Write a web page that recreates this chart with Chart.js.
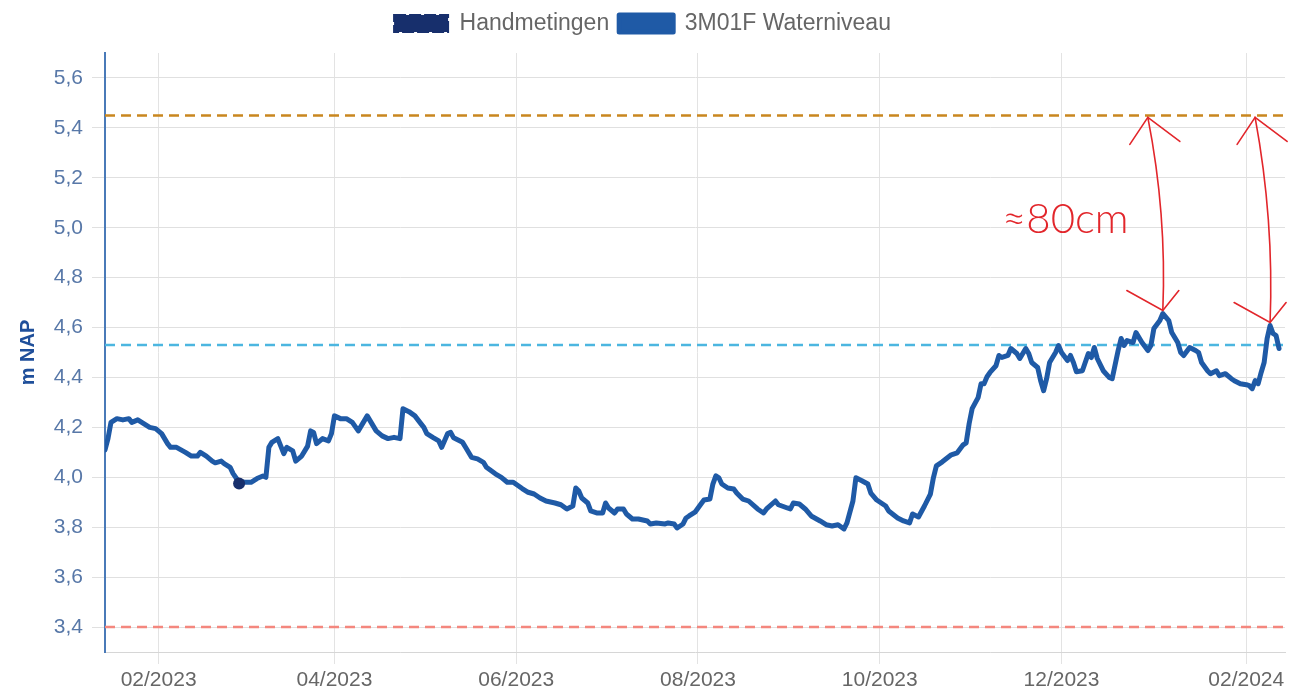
<!DOCTYPE html>
<html>
<head>
<meta charset="utf-8">
<script src="https://cdn.jsdelivr.net/npm/chart.js@4.4.1/dist/chart.umd.min.js"></script>
<style>
  html, body { margin: 0; padding: 0; background: #fff; }
  #wrap { width: 1300px; height: 695px; position: relative; }
</style>
</head>
<body>
<div id="wrap"><canvas id="grafico"></canvas></div>
<script>
// dagwaarden 3M01F (m NAP)
const waterDates = [
  "2023-01-14","2023-01-15","2023-01-16","2023-01-18","2023-01-20","2023-01-22","2023-01-23","2023-01-25","2023-01-27","2023-01-29","2023-01-31",
  "2023-02-02","2023-02-04","2023-02-05","2023-02-07","2023-02-10","2023-02-12","2023-02-14","2023-02-15","2023-02-17","2023-02-19","2023-02-20","2023-02-22","2023-02-23","2023-02-25","2023-02-26","2023-02-28",
  "2023-03-02","2023-03-04","2023-03-06","2023-03-08","2023-03-09","2023-03-10","2023-03-11","2023-03-13","2023-03-14","2023-03-15","2023-03-16","2023-03-18","2023-03-19","2023-03-21","2023-03-23","2023-03-24","2023-03-25","2023-03-26","2023-03-28","2023-03-30","2023-03-31",
  "2023-04-01","2023-04-03","2023-04-05","2023-04-07","2023-04-09","2023-04-10","2023-04-12","2023-04-13","2023-04-15","2023-04-17","2023-04-19","2023-04-21","2023-04-23","2023-04-24","2023-04-26","2023-04-28","2023-04-30",
  "2023-05-01","2023-05-02","2023-05-04","2023-05-06","2023-05-07","2023-05-09","2023-05-10","2023-05-11","2023-05-14","2023-05-15","2023-05-17","2023-05-19","2023-05-21","2023-05-22","2023-05-25","2023-05-27","2023-05-29","2023-05-31",
  "2023-06-03","2023-06-05","2023-06-07","2023-06-09","2023-06-11","2023-06-14","2023-06-16","2023-06-18","2023-06-20","2023-06-21","2023-06-22","2023-06-23","2023-06-25","2023-06-26","2023-06-28","2023-06-30",
  "2023-07-01","2023-07-02","2023-07-04","2023-07-05","2023-07-07","2023-07-08","2023-07-10","2023-07-12","2023-07-15","2023-07-16","2023-07-18","2023-07-21","2023-07-22","2023-07-24","2023-07-25","2023-07-27","2023-07-28","2023-07-29","2023-07-31",
  "2023-08-02","2023-08-03","2023-08-05","2023-08-06","2023-08-07","2023-08-08","2023-08-09","2023-08-11","2023-08-13","2023-08-14","2023-08-16","2023-08-18","2023-08-21","2023-08-23","2023-08-24","2023-08-27","2023-08-28","2023-08-31",
  "2023-09-01","2023-09-02","2023-09-04","2023-09-06","2023-09-08","2023-09-11","2023-09-13","2023-09-15","2023-09-17","2023-09-19","2023-09-20","2023-09-22","2023-09-23","2023-09-25","2023-09-27","2023-09-28","2023-09-30",
  "2023-10-03","2023-10-04","2023-10-07","2023-10-09","2023-10-11","2023-10-12","2023-10-14","2023-10-16","2023-10-18","2023-10-19","2023-10-20","2023-10-22","2023-10-25","2023-10-27","2023-10-29","2023-10-30","2023-10-31",
  "2023-11-01","2023-11-03","2023-11-04","2023-11-05","2023-11-06","2023-11-07","2023-11-09","2023-11-10","2023-11-11","2023-11-13","2023-11-14","2023-11-16","2023-11-17","2023-11-19","2023-11-20","2023-11-21","2023-11-23","2023-11-24","2023-11-25","2023-11-26","2023-11-27","2023-11-29","2023-11-30",
  "2023-12-01","2023-12-03","2023-12-04","2023-12-05","2023-12-06","2023-12-08","2023-12-10","2023-12-11","2023-12-12","2023-12-13","2023-12-15","2023-12-17","2023-12-18","2023-12-20","2023-12-21","2023-12-22","2023-12-23","2023-12-25","2023-12-26","2023-12-27","2023-12-28","2023-12-30","2023-12-31",
  "2024-01-01","2024-01-03","2024-01-04","2024-01-06","2024-01-07","2024-01-09","2024-01-10","2024-01-11","2024-01-13","2024-01-15","2024-01-16","2024-01-17","2024-01-19","2024-01-20","2024-01-22","2024-01-23","2024-01-25","2024-01-27","2024-01-28","2024-01-30",
  "2024-02-01","2024-02-02","2024-02-03","2024-02-04","2024-02-05","2024-02-06","2024-02-07","2024-02-08","2024-02-09","2024-02-10","2024-02-11","2024-02-12"
];
const waterLevels = [
  4.11,4.155,4.22,4.235,4.23,4.235,4.22,4.23,4.215,4.20,4.195,
  4.175,4.135,4.12,4.12,4.10,4.085,4.085,4.10,4.085,4.065,4.058,4.065,4.055,4.04,4.015,3.98,
  3.98,3.98,3.995,4.005,4.00,4.12,4.14,4.155,4.125,4.095,4.12,4.106,4.065,4.085,4.125,4.186,4.18,4.135,4.155,4.146,4.175,
  4.246,4.235,4.235,4.22,4.186,4.206,4.246,4.226,4.186,4.166,4.155,4.16,4.155,4.275,4.263,4.246,4.215,
  4.20,4.175,4.16,4.146,4.12,4.175,4.18,4.158,4.14,4.12,4.08,4.074,4.06,4.04,4.014,4.00,3.98,3.98,
  3.955,3.94,3.933,3.917,3.905,3.897,3.89,3.873,3.885,3.957,3.945,3.917,3.897,3.865,3.857,3.857,
  3.897,3.877,3.857,3.873,3.873,3.853,3.833,3.833,3.825,3.813,3.817,3.813,3.817,3.813,3.797,3.813,3.837,3.845,3.86,
  3.893,3.909,3.913,3.973,4.006,3.998,3.973,3.957,3.953,3.937,3.913,3.905,3.873,3.857,3.873,3.905,3.89,3.877,
  3.873,3.897,3.893,3.873,3.845,3.825,3.81,3.805,3.81,3.793,3.817,3.905,3.998,3.986,3.973,3.937,3.909,
  3.885,3.865,3.837,3.825,3.817,3.853,3.841,3.885,3.933,3.998,4.046,4.062,4.09,4.098,4.13,4.138,4.215,
  4.275,4.319,4.375,4.375,4.403,4.42,4.447,4.488,4.48,4.488,4.516,4.496,4.476,4.516,4.496,4.46,4.44,4.387,4.347,4.395,4.46,4.50,4.528,
  4.50,4.468,4.488,4.46,4.423,4.427,4.496,4.48,4.52,4.476,4.427,4.40,4.395,4.508,4.556,4.528,4.548,4.54,4.58,4.56,4.54,4.508,4.528,
  4.596,4.628,4.656,4.628,4.58,4.54,4.50,4.488,4.52,4.508,4.50,4.46,4.427,4.415,4.427,4.407,4.415,4.395,4.387,4.375,
  4.371,4.367,4.355,4.387,4.375,4.42,4.46,4.556,4.608,4.576,4.568,4.516
];

// handmeting
const handDates = ["2023-02-28"];
const handLevels = [3.975];

// referentieniveaus (m NAP)
const levelValues = [5.45, 4.53, 3.40];
const levelColors = ["#c9871f", "#4cb6e0", "#f4877e"];

// as-indeling
const axisStart = "2023-01-14";
const axisEnd = "2024-02-14";
const tickDates = ["2023-02-01","2023-04-01","2023-06-01","2023-08-01","2023-10-01","2023-12-01","2024-02-01"];
const tickLabels = ["02/2023","04/2023","06/2023","08/2023","10/2023","12/2023","02/2024"];
const yTicks = [3.4, 3.6, 3.8, 4.0, 4.2, 4.4, 4.6, 4.8, 5.0, 5.2, 5.4, 5.6];

// rode aantekeningen
const arrowDates = ["2024-01-04", "2024-02-09"];
const arrowFrom = [4.656, 4.608];
const arrowTo = 5.45;
const noteText = "≈80cm";
const noteDate = "2023-11-11";
const noteValue = 4.98;

const FONT = '"Liberation Sans", Arial, sans-serif';

let levelSets = levelValues.map((v, i) => ({
  label: "niveau " + i,
  data: [{ x: Date.parse(axisStart), y: v }, { x: Date.parse(axisEnd), y: v }],
  borderColor: levelColors[i],
  borderWidth: 2.5,
  borderDash: [10, 6],
  pointRadius: 0,
  fill: false,
}));

/*********************** AANTEKENINGEN ***********************/
const handNotes = {
  id: "handNotes",
  afterDatasetsDraw(chart) {
    const { ctx, scales: { x, y } } = chart;
    ctx.save();
    ctx.strokeStyle = "#e2262b";
    ctx.fillStyle = "#e2262b";
    ctx.lineWidth = 1.6;
    ctx.lineCap = "round";
    arrowDates.forEach((d, i) => {
      const bx = x.getPixelForValue(Date.parse(d));
      const by = y.getPixelForValue(arrowFrom[i]) - 3;
      const tx = bx - 15;
      const ty = y.getPixelForValue(arrowTo) + 2;
      ctx.beginPath();
      ctx.moveTo(bx, by);
      ctx.quadraticCurveTo(bx + 4, (by + ty) / 2, tx, ty);
      ctx.stroke();
      ctx.beginPath();
      ctx.moveTo(tx - 18, ty + 27);
      ctx.lineTo(tx, ty);
      ctx.lineTo(tx + 32, ty + 24);
      ctx.stroke();
      ctx.beginPath();
      ctx.moveTo(bx - 36, by - 20);
      ctx.lineTo(bx, by);
      ctx.lineTo(bx + 16, by - 20);
      ctx.stroke();
    });
    ctx.font = '300 42px Lato, "DejaVu Sans", sans-serif';
    ctx.textBaseline = "alphabetic";
    ctx.fillText(noteText, x.getPixelForValue(Date.parse(noteDate)), y.getPixelForValue(noteValue));
    ctx.restore();
  },
};

const fixLegend = {
  id: "fixLegend",
  afterInit(chart) {
    const fit = chart.legend.fit;
    chart.legend.fit = function () {
      fit.call(this);
      this.height = 51;
    };
  },
};

/*************************** GRAFIEK ***************************/
let canvas = document.getElementById("grafico").getContext("2d");
let grafico = new Chart(canvas, {
  type: "line",
  data: {
    datasets: [
      {
        label: "Handmetingen",
        data: handDates.map((d, i) => ({ x: Date.parse(d), y: handLevels[i] })),
        showLine: false,
        backgroundColor: "#172f6c",
        borderColor: "#172f6c",
        borderWidth: 2,
        borderDash: [12, 3],
        pointRadius: 6,
        pointBorderWidth: 0,
      },
      {
        label: "3M01F Waterniveau",
        data: waterDates.map((d, i) => ({ x: Date.parse(d), y: waterLevels[i] })),
        backgroundColor: "#1f5aa6",
        borderColor: "#1f5aa6",
        borderWidth: 5,
        borderJoinStyle: "round",
        borderCapStyle: "round",
        pointRadius: 0,
        tension: 0,
        fill: false,
      },
      ...levelSets,
    ],
  },
  options: {
    responsive: true,
    maintainAspectRatio: false,
    animation: false,
    layout: { padding: { top: 2, right: 15, left: 0, bottom: 0 } },
    plugins: {
      legend: {
        position: "top",
        labels: {
          filter: (item) => item.datasetIndex < 2,
          boxWidth: 54,
          boxHeight: 17,
          padding: 10,
          color: "#666",
          font: { family: FONT, size: 23 },
        },
      },
      tooltip: { enabled: false },
    },
    scales: {
      x: {
        type: "linear",
        min: Date.parse(axisStart),
        max: Date.parse(axisEnd),
        afterBuildTicks: (scale) => {
          scale.ticks = tickDates.map((d) => ({ value: Date.parse(d) }));
        },
        afterFit: (scale) => {
          scale.height = 43;
        },
        ticks: {
          autoSkip: false,
          maxRotation: 0,
          padding: 4,
          color: "#666",
          font: { family: FONT, size: 21 },
          callback: (value, index) => tickLabels[index],
        },
        grid: { color: "#e3e3e3", tickLength: 12, tickColor: "#e3e3e3" },
        border: { color: "#d6d6d6", width: 1 },
      },
      y: {
        min: 3.3,
        max: 5.7,
        afterBuildTicks: (scale) => {
          scale.ticks = yTicks.map((v) => ({ value: v }));
        },
        afterFit: (scale) => {
          scale.width = 105;
        },
        ticks: {
          padding: 9,
          color: "#5878a8",
          font: { family: FONT, size: 21 },
          callback: (value) => value.toFixed(1).replace(".", ","),
        },
        grid: { color: "#e0e0e0", tickLength: 13, tickColor: "#e0e0e0" },
        border: { color: "#4a7ab8", width: 2 },
        title: {
          display: true,
          text: "m NAP",
          color: "#1f4f9a",
          padding: { top: 16, bottom: 0 },
          font: { family: FONT, size: 20, weight: "bold" },
        },
      },
    },
  },
  plugins: [handNotes, fixLegend],
});
</script>
</body>
</html>
